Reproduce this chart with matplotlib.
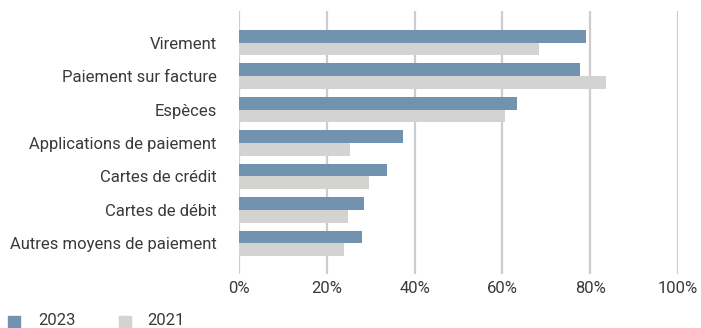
import matplotlib
matplotlib.use("Agg")
import matplotlib.pyplot as plt
import numpy as np
from matplotlib.patches import Rectangle

categories = ["Virement", "Paiement sur facture", "Espèces", "Applications de paiement",
              "Cartes de crédit", "Cartes de débit", "Autres moyens de paiement"]
values_2023 = [79.0, 77.6, 63.3, 37.3, 33.7, 28.4, 28.0]
values_2021 = [68.3, 83.5, 60.5, 25.3, 29.6, 24.8, 23.9]
xticks = [0, 20, 40, 60, 80, 100]
xtick_labels = ["0%", "20%", "40%", "60%", "80%", "100%"]
series_names = ["2023", "2021"]

c2023 = "#7293b0"
c2021 = "#d3d3d1"
text_color = "#3a3a3a"

plt.rcParams['font.family'] = ['Roboto', 'DejaVu Sans']

W, H = 701, 328
fig = plt.figure(figsize=(W/100, H/100), dpi=100)
ax = fig.add_axes([239/W, 1 - 274/H, (678-239)/W, (274-11)/H])

y = np.arange(len(categories))
h = 0.38
ax.barh(y - h/2, values_2023, height=h, color=c2023, zorder=3)
ax.barh(y + h/2, values_2021, height=h, color=c2021, zorder=3)

ax.set_xlim(0, 100)
ax.set_ylim(len(categories) - 1 + 0.92, -0.95)
ax.set_xticks(xticks)
ax.set_xticklabels(xtick_labels)
ax.set_yticks(y)
ax.set_yticklabels(categories)
ax.grid(axis='x', color='#cdcdcd', linewidth=1.6, zorder=0)
for s in ax.spines.values():
    s.set_visible(False)
ax.tick_params(axis='both', length=0, labelsize=12, colors=text_color)
ax.tick_params(axis='x', pad=5)
ax.tick_params(axis='y', pad=16)

# legend (manual, figure pixel layout)
leg_items = [(series_names[0], c2023, 8, 38), (series_names[1], c2021, 119, 147)]
for name, col, sx, tx in leg_items:
    fig.add_artist(Rectangle((sx/W, 1 - 328/H), 12/W, 12/H, transform=fig.transFigure,
                             color=col, clip_on=False))
    fig.text(tx/W, 1 - 325/H, name, fontsize=12, color=text_color, va='baseline', ha='left')

fig.savefig("out.png", dpi=100)
